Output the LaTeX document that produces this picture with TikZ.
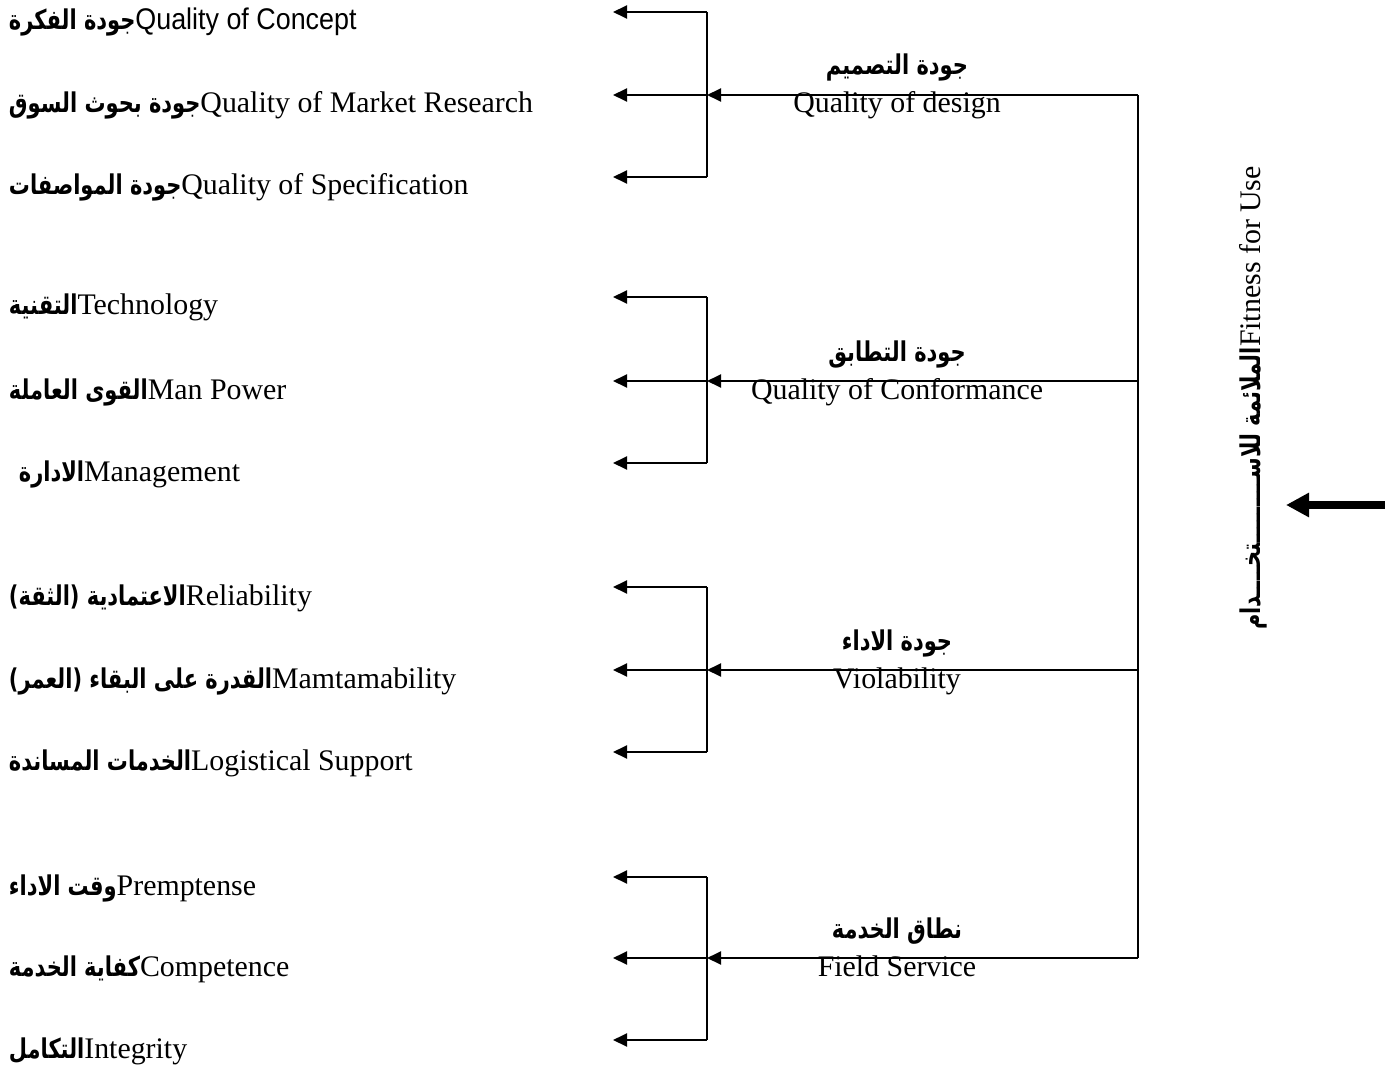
\documentclass[tikz,border=0pt]{standalone}
\usepackage{fontspec}
\usepackage{xcolor}
\usetikzlibrary{arrows.meta,positioning}
\setmainfont{Liberation Serif}
\newfontfamily\arabicfont[Script=Arabic,FakeStretch=0.77]{DejaVu Sans}
\newfontfamily\narrowfont[FakeStretch=0.9]{Liberation Sans}
\TeXXeTstate=1
\newcommand{\ar}[1]{{\arabicfont\bfseries\fontsize{15.5}{17}\selectfont\beginR #1\endR}}

\begin{document}
\begin{tikzpicture}[x=0.02cm, y=-0.02cm, line width=1.1pt,
    lbl/.style={anchor=base west, inner sep=0pt, font=\fontsize{17}{20}\selectfont},
    mid/.style={anchor=base, inner sep=0pt, font=\fontsize{17}{20}\selectfont},
    tip/.style={-{Triangle[length=0.28cm, width=0.26cm]}}]
                \useasboundingbox (0,0) rectangle (1385,1067);

                % left labels
                \node[lbl] (1) at (8,30) {\ar{جودة الفكرة}{\narrowfont Quality of Concept}};
                \node[lbl] (2) at (8,113) {\ar{جودة بحوث السوق}Quality of Market Research};
                \node[lbl] (3) at (8,195) {\ar{جودة المواصفات}Quality of Specification};
                \node[lbl] (4) at (8,315) {\ar{التقنية}Technology};
                \node[lbl] (5) at (8,399) {\ar{القوى العاملة}Man Power};
                \node[lbl] (6) at (18,481) {\ar{الادارة}Management};
                \node[lbl] (7) at (8,605) {\ar{الاعتمادية (الثقة)}Reliability};
                \node[lbl] (8) at (8,688) {\ar{القدرة على البقاء (العمر)}Mamtamability};
                \node[lbl] (9) at (8,770) {\ar{الخدمات المساندة}Logistical Support};
                \node[lbl] (10) at (8,895) {\ar{وقت الاداء}Premptense};
                \node[lbl] (11) at (8,976) {\ar{كفاية الخدمة}Competence};
                \node[lbl] (12) at (8,1058) {\ar{التكامل}Integrity};

                % middle labels
                \node[mid] (d1) at (897,75) {\ar{جودة التصميم}};
                \node[mid] (e1) at (897,113) {Quality of design};
                \node[mid] (d2) at (897,361) {\ar{جودة التطابق}};
                \node[mid] (e2) at (897,399) {Quality of Conformance};
                \node[mid] (d3) at (897,650) {\ar{جودة الاداء}};
                \node[mid] (e3) at (897,688) {Violability};
                \node[mid] (d4) at (897,938) {\ar{نطاق الخدمة}};
                \node[mid] (e4) at (897,976) {Field Service};

                % right side
                \node[rotate=90, anchor=base, inner sep=0pt, font=\fontsize{17}{20}\selectfont] (fit) at (1260,398)
                    {\ar{الملائمة للاســـــــــتخــــدام}Fitness for Use};
                \coordinate (s0) at (1385,505);
                \coordinate (s1) at (1286,505);
                \draw[line width=4pt, -{Triangle[length=0.46cm, width=0.46cm]}] (s0) -- (s1);

                % brackets
                \coordinate (u1) at (707,12);   \coordinate (a1) at (613,12);
                \coordinate (m1) at (707,95);   \coordinate (a2) at (613,95);
                \coordinate (w1) at (707,177);  \coordinate (a3) at (613,177);
                \coordinate (u2) at (707,297);  \coordinate (a4) at (613,297);
                \coordinate (m2) at (707,381);  \coordinate (a5) at (613,381);
                \coordinate (w2) at (707,463);  \coordinate (a6) at (613,463);
                \coordinate (u3) at (707,587);  \coordinate (a7) at (613,587);
                \coordinate (m3) at (707,670);  \coordinate (a8) at (613,670);
                \coordinate (w3) at (707,752);  \coordinate (a9) at (613,752);
                \coordinate (u4) at (707,877);  \coordinate (a10) at (613,877);
                \coordinate (m4) at (707,958);  \coordinate (a11) at (613,958);
                \coordinate (w4) at (707,1040); \coordinate (a12) at (613,1040);
                \coordinate (r1) at (1138,95);
                \coordinate (r2) at (1138,381);
                \coordinate (r3) at (1138,670);
                \coordinate (r4) at (1138,958);

                \draw (u1) -- (w1);
                \draw (u2) -- (w2);
                \draw (u3) -- (w3);
                \draw (u4) -- (w4);
                \draw (r1) -- (r4);

                \path[tip]
                    (u1) edge (a1)
                    (m1) edge (a2)
                    (w1) edge (a3)
                    (u2) edge (a4)
                    (m2) edge (a5)
                    (w2) edge (a6)
                    (u3) edge (a7)
                    (m3) edge (a8)
                    (w3) edge (a9)
                    (u4) edge (a10)
                    (m4) edge (a11)
                    (w4) edge (a12)
                    (r1) edge (m1)
                    (r2) edge (m2)
                    (r3) edge (m3)
                    (r4) edge (m4)
                ;
            \end{tikzpicture}
\end{document}
